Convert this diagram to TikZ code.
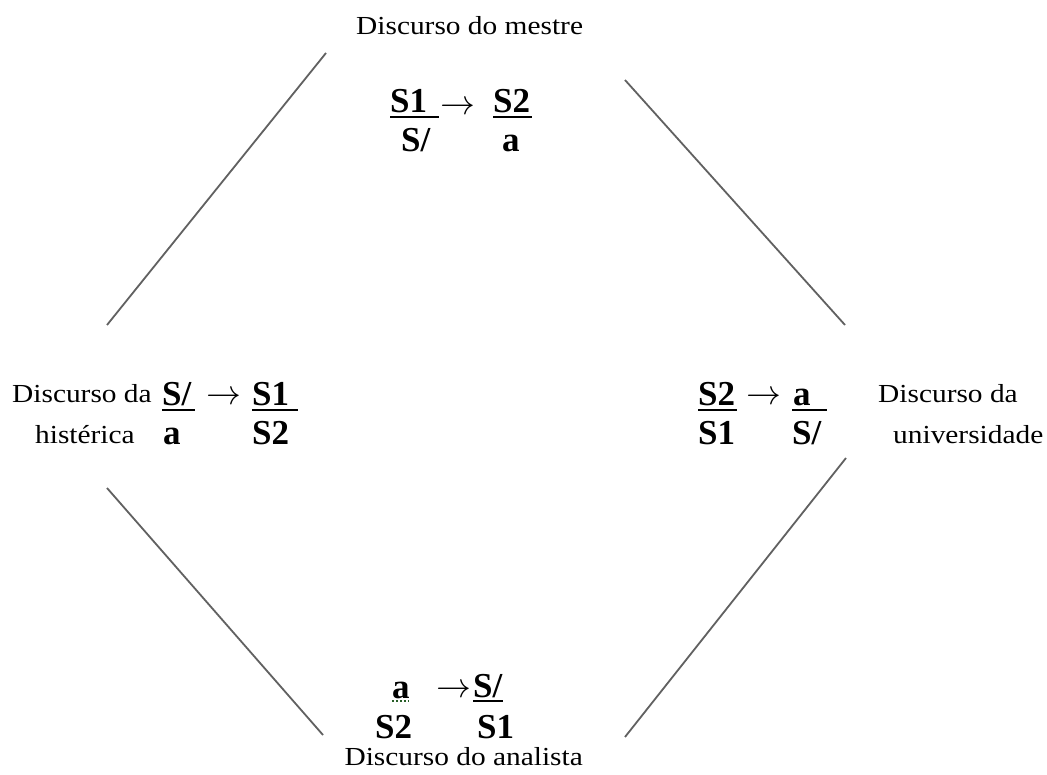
\documentclass[tikz,border=0pt]{standalone}
\usepackage{fontspec}
\usepackage{graphicx}
\setmainfont{Liberation Serif}
\begin{document}
\begin{tikzpicture}[x=1pt,y=-1pt,
  lbl/.style={inner sep=0pt,anchor=base west,font=\fontsize{26}{28}\selectfont},
  sym/.style={inner sep=0pt,anchor=base west,font=\fontsize{35}{36}\selectfont\bfseries},
  arr/.style={inner sep=0pt,anchor=base west,font=\fontsize{24.88}{26}\selectfont},
  bar/.style={line width=2.6pt,black},
  side/.style={line width=1.8pt,black!62}]
\useasboundingbox (0,0) rectangle (1047,775);
\fill[white] (0,0) rectangle (1047,775);
\newcommand{\wide}[1]{\scalebox{1.13}[1]{#1}}
\newcommand{\longarr}{\scalebox{1.4}{$\rightarrow$}}
% side lines
\coordinate (tl1) at (107,325); \coordinate (tl2) at (326,53);
\coordinate (tr1) at (625,80);  \coordinate (tr2) at (845,325);
\coordinate (bl1) at (107,488); \coordinate (bl2) at (323,735);
\coordinate (br1) at (846,458); \coordinate (br2) at (625,737);
\draw[side] (tl1) -- (tl2);
\draw[side] (tr1) -- (tr2);
\draw[side] (bl1) -- (bl2);
\draw[side] (br1) -- (br2);
% labels
\node[lbl] (mestre) at (356,35) {\wide{Discurso do mestre}};
\node[lbl] (histA) at (12,403) {\wide{Discurso da}};
\node[lbl] (histB) at (35,443) {\wide{histérica}};
\node[lbl] (univA) at (878,403) {\wide{Discurso da}};
\node[lbl] (univB) at (893,443) {\wide{universidade}};
\node[lbl,anchor=base east] (anal) at (583,765) {\wide{Discurso do analista}};
% master
\node[sym] (mS1) at (390,113) {S1};
\node[sym] (mS2) at (493,113) {S2};
\node[sym] (mSb) at (401,152) {S/};
\node[sym] (ma) at (502,152) {a};
\node[arr] (mar) at (440,115) {\longarr};
\draw[bar] (390,117) -- (439,117);
\draw[bar] (493,117) -- (532,117);
% hysteric
\node[sym] (hSb) at (162,406) {S/};
\node[sym] (hS1) at (252,406) {S1};
\node[sym] (ha) at (163,445) {a};
\node[sym] (hS2) at (252,445) {S2};
\node[arr] (har) at (206,405) {\longarr};
\draw[bar] (162,410) -- (195,410);
\draw[bar] (252,410) -- (298,410);
% university
\node[sym] (uS2) at (698,406) {S2};
\node[sym] (ua) at (793,406) {a};
\node[sym] (uS1) at (698,445) {S1};
\node[sym] (uSb) at (792,445) {S/};
\node[arr] (uar) at (746,405) {\longarr};
\draw[bar] (698,410) -- (737,410);
\draw[bar] (792,410) -- (827,410);
% analyst
\node[sym] (aa) at (392,698) {a};
\node[sym] (aSb) at (473,697) {S/};
\node[sym] (aS2) at (375,738) {S2};
\node[sym] (aS1) at (477,738) {S1};
\node[arr] (aar) at (436,697) {\longarr};
\draw[line width=2pt,color={rgb,255:red,40;green,95;blue,40},dotted] (392,701) -- (409,701);
\draw[bar] (473,701) -- (503,701);
\end{tikzpicture}
\end{document}
